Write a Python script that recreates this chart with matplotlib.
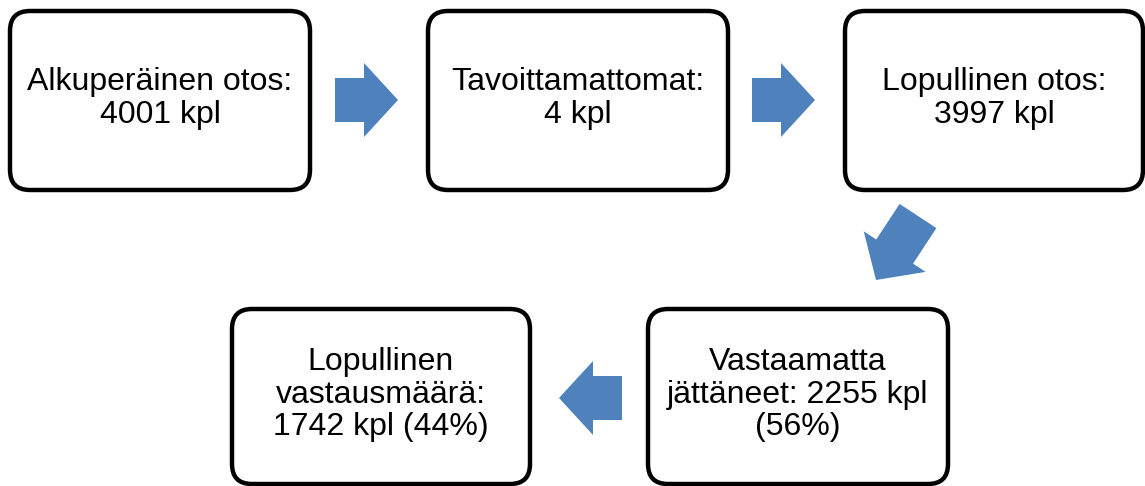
import matplotlib.pyplot as plt
from matplotlib.patches import FancyBboxPatch, FancyArrow

plt.rcParams['font.family'] = ['Liberation Sans', 'DejaVu Sans']

# box texts
labels = [
    "Alkuperäinen otos:\n4001 kpl",
    "Tavoittamattomat:\n4 kpl",
    "Lopullinen otos:\n3997 kpl",
    "Vastaamatta\njättäneet: 2255 kpl\n(56%)",
    "Lopullinen\nvastausmäärä:\n1742 kpl (44%)",
]
# layout in pixels: x0, y0, x1, y1
boxes = [
    (10, 11, 310, 190),
    (428, 11, 728, 190),
    (845, 11, 1143, 190),
    (648, 309, 948, 484),
    (232, 309, 530, 484),
]
# arrows: start (x, y), end (x, y)
arrows = [
    ((335, 100), (398, 100)),
    ((752, 100), (815, 100)),
    ((918, 216), (876, 280)),
    ((622, 398), (559, 398)),
]
arrow_color = "#4F81BD"

fig = plt.figure(figsize=(11.45, 4.86), dpi=100)
ax = fig.add_axes([0, 0, 1, 1])
ax.set_xlim(0, 1145)
ax.set_ylim(486, 0)
ax.axis("off")

for (x0, y0, x1, y1), txt in zip(boxes, labels):
    ax.add_patch(FancyBboxPatch((x0, y0), x1 - x0, y1 - y0,
                                boxstyle="round,pad=0,rounding_size=20",
                                facecolor="white", edgecolor="black", linewidth=3.2))
    ax.text((x0 + x1) / 2, (y0 + y1) / 2 - 2, txt, ha="center", va="center",
            fontsize=23, linespacing=1.12)

for (sx, sy), (ex, ey) in arrows:
    ax.add_patch(FancyArrow(sx, sy, ex - sx, ey - sy, width=44, head_width=74,
                            head_length=34, length_includes_head=True,
                            color=arrow_color, linewidth=0))

fig.savefig("out.png", dpi=100)
